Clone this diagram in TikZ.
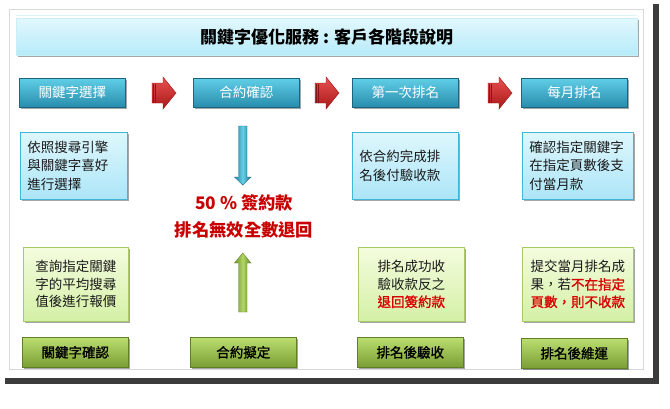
\documentclass[tikz,border=0pt]{standalone}
\usepackage{fontspec}
\setmainfont{Noto Sans CJK TC}
\newfontfamily\semib[FakeBold=1.3]{Noto Sans CJK TC}
\usetikzlibrary{shadows}
\definecolor{shadowc}{HTML}{3C3C3C}
\definecolor{framec}{HTML}{D8D8D8}
\definecolor{txt}{HTML}{1A1A1A}
\definecolor{redtxt}{HTML}{C80000}
\definecolor{redtxtb}{HTML}{D80000}
\definecolor{titletop}{HTML}{E2F7FD}
\definecolor{titlebot}{HTML}{B6EBF9}
\definecolor{titledraw}{HTML}{C8EEF8}
\definecolor{titleline}{HTML}{DDF3FA}
\definecolor{hdrtop}{HTML}{60CEE6}
\definecolor{hdrbot}{HTML}{288CAC}
\definecolor{hdrdraw}{HTML}{1C647D}
\definecolor{cyantop}{HTML}{DEF7FD}
\definecolor{cyanbot}{HTML}{ACE5F7}
\definecolor{cyandraw}{HTML}{40B6D8}
\definecolor{grtop}{HTML}{F4FCDE}
\definecolor{grbot}{HTML}{D4F0A6}
\definecolor{grdraw}{HTML}{A8CA64}
\definecolor{btntop}{HTML}{BCDE70}
\definecolor{btnbot}{HTML}{7A9E34}
\definecolor{btndraw}{HTML}{607E28}
\definecolor{arrtop}{HTML}{E85050}
\definecolor{arrbot}{HTML}{AA1818}
\definecolor{arrdraw}{HTML}{961414}
\definecolor{arrstripe}{HTML}{8C1414}
\definecolor{blueL}{HTML}{2482A0}
\definecolor{blueM}{HTML}{64D0E8}
\definecolor{blueR}{HTML}{1E6E8A}
\definecolor{greenL}{HTML}{6E912D}
\definecolor{greenM}{HTML}{B2D664}
\definecolor{greenR}{HTML}{648728}
\begin{document}
\begin{tikzpicture}[x=1pt,y=-1pt,
  shad/.style={drop shadow={shadow xshift=1.5pt,shadow yshift=-1.8pt,opacity=0.35,fill=black}},
  titlebar/.style={rectangle,anchor=north west,inner sep=0pt,top color=titletop,bottom color=titlebot,
     draw=titledraw,line width=0.4pt,shad,font=\bfseries\fontsize{17}{20}\selectfont,text=black},
  hdrbox/.style={rectangle,anchor=north west,inner sep=0pt,minimum height=29pt,minimum width=106pt,
     top color=hdrtop,bottom color=hdrbot,
     draw=hdrdraw,line width=0.6pt,shad,text=white,
     font=\fontsize{13.5}{16}\selectfont},
  cyanbox/.style={rectangle,anchor=north west,inner xsep=7pt,inner ysep=0pt,minimum height=67pt,
     top color=cyantop,bottom color=cyanbot,
     draw=cyandraw,line width=0.6pt,shad,text=txt,align=left,
     font=\fontsize{13.5}{18.5}\selectfont},
  greenbox/.style={rectangle,anchor=north west,inner sep=0pt,minimum height=74pt,
     top color=grtop,bottom color=grbot,
     draw=grdraw,line width=0.6pt,shad,text=txt,align=center,
     font=\fontsize{13.5}{17.5}\selectfont},
  greenbtn/.style={rectangle,anchor=north west,inner sep=0pt,minimum height=30pt,minimum width=106pt,
     top color=btntop,bottom color=btnbot,
     draw=btndraw,line width=0.6pt,shad,text=black,
     font=\semib\fontsize{13.5}{16}\selectfont},
  midtxt/.style={text=redtxt,font=\bfseries\fontsize{17.3}{20}\selectfont,inner sep=0pt},
  redarr/.style={top color=arrtop,bottom color=arrbot,
     draw=arrdraw,line width=0.4pt,line join=miter}
]
\useasboundingbox (0,0) rectangle (670,408);
% page with shadow
\fill[shadowc] (5,4) rectangle (659,384);
\fill[white] (0,0) rectangle (653,378);
\draw[framec,line width=0.6pt] (9,9) rectangle (643,369);
\draw[titleline,line width=1pt] (16,15) -- (637,15);
% title
\node[titlebar,minimum width=621pt,minimum height=37pt] (title) at (16,18) {關鍵字優化服務 : 客戶各階段說明};
% header boxes
\node[hdrbox] (h1) at (19,78) {關鍵字選擇};
\node[hdrbox] (h2) at (193,78) {合約確認};
\node[hdrbox] (h3) at (352,78) {第一次排名};
\node[hdrbox] (h4) at (521,78) {每月排名};
% red arrows
\foreach \xo in {152,315,488}{
  \begin{scope}[shift={(\xo,77)}]
    \path[redarr] (0,6) -- (11,6) -- (11,0) -- (24,16) -- (11,32) -- (11,26) -- (0,26) -- cycle;
    \draw[arrstripe,line width=0.5pt] (1.5,6.5) -- (1.5,25.5) (3.5,6.5) -- (3.5,25.5);
  \end{scope}
}
% cyan text boxes
\node[cyanbox,text width=93pt] (c1) at (20,132) {依照搜尋引擎\\與關鍵字喜好\\進行選擇};
\node[cyanbox,text width=92pt] (c3) at (352,132) {依合約完成排\\名後付驗收款};
\node[cyanbox,text width=97pt] (c4) at (522,132) {確認指定關鍵字\\在指定頁數後支\\付當月款};
% middle texts
\node[midtxt] (m1) at (244,203) {50 \% 簽約款};
\node[midtxt] (m2) at (244,230) {排名無效全數退回};
% blue down arrow
\path[left color=blueL,right color=blueR,middle color=blueM,draw=blueR,line width=0.4pt]
  (238.5,126) -- (247,126) -- (247,177) -- (251,177) -- (242.75,185) -- (234.5,177) -- (238.5,177) -- cycle;
% green up arrow
\path[left color=greenL,right color=greenR,middle color=greenM,draw=greenR,line width=0.4pt]
  (238.5,312) -- (247,312) -- (247,263) -- (251,263) -- (242.75,253) -- (234.5,263) -- (238.5,263) -- cycle;
% green text boxes
\node[greenbox,minimum width=105pt] (g1) at (23,247) {查詢指定關鍵\\字的平均搜尋\\值後進行報價};
\node[greenbox,minimum width=106pt] (g3) at (358,247) {排名成功收\\驗收款反之\\{\color{redtxtb}\semib 退回簽約款}};
\node[greenbox,minimum width=111pt] (g4) at (522,247) {提交當月排名成\\果，若{\color{redtxtb}\semib 不在指定}\\{\color{redtxtb}\semib 頁數，則不收款}};
% green buttons
\node[greenbtn] (b1) at (22,337) {關鍵字確認};
\node[greenbtn] (b2) at (190,337) {合約擬定};
\node[greenbtn] (b3) at (357,337) {排名後驗收};
\node[greenbtn] (b4) at (521,338) {排名後維運};
\end{tikzpicture}
\end{document}
